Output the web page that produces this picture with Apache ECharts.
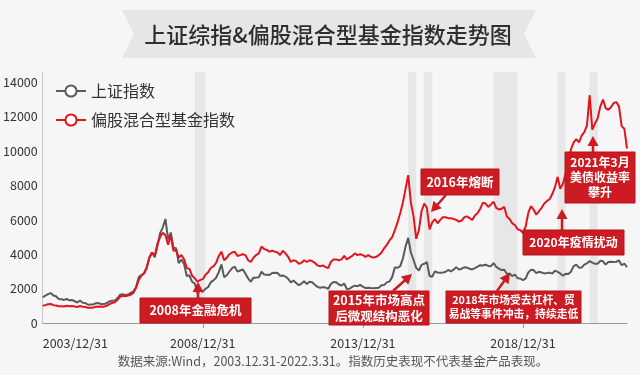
<!DOCTYPE html>
<html><head><meta charset="utf-8">
<script src="https://cdn.jsdelivr.net/npm/echarts@6/dist/echarts.min.js"></script>
<style>html,body{margin:0;padding:0;background:#f6f6f6}#c{width:640px;height:375px}</style>
</head><body><div id="c"></div>
<script>
// monthly month-end categories, 2003/12/31 .. 2022/3/31
const categories = [];
for (let k = 0; k < 220; k++) {
  const y = 2003 + Math.floor((11 + k) / 12), m = (11 + k) % 12 + 1;
  categories.push(y + '/' + m + '/' + new Date(y, m, 0).getDate());
}
const xTickLabels = ['2003/12/31', '2008/12/31', '2013/12/31', '2018/12/31'];
const yTickValues = [0, 2000, 4000, 6000, 8000, 10000, 12000, 14000];

const sseIndex = [1497,
1590,1675,1742,1595,1555,1400,1386,1342,1396,1320,1340,1266,
1191,1306,1181,1159,1060,1080,1083,1162,1155,1092,1099,1161,
1258,1299,1298,1440,1641,1672,1612,1658,1752,1837,2099,2675,
2786,2881,3183,3841,4109,3820,4471,5219,5552,6050,4871,5262,
4383,4348,3473,3693,3433,2736,2776,2397,2293,1729,1871,1821,
1991,2082,2373,2477,2633,2959,3412,2667,2779,2996,3195,3277,
2989,3051,3110,2870,2592,2398,2638,2639,2656,2979,2820,2808,
2791,2905,2928,2911,2743,2762,2701,2568,2359,2469,2333,2199,
2292,2428,2263,2397,2373,2225,2103,2047,2086,2069,1980,2269,
2385,2366,2237,2178,2301,1979,1994,2098,2175,2141,2221,2116,
2033,2056,2033,2026,2039,2048,2202,2217,2364,2420,2683,3235,
3210,3310,3748,4442,4950,4100,3664,3206,3053,3383,3445,3539,
2738,2688,3004,2938,2917,2930,2979,3085,3005,3100,3250,3104,
3159,3242,3223,3155,3117,3193,3273,3361,3349,3393,3317,3307,
3481,3259,3169,3082,3095,2847,2876,2725,2821,2603,2588,2494,
2585,2941,3091,3078,2899,2979,2933,2886,2905,2929,2872,3050,
2977,2880,2750,2860,2852,2985,3310,3396,3218,3225,3392,3473,
3600,3509,3442,3447,3615,3591,3397,3544,3568,3547,3564,3640,
3361,3462,3252];

const fundIndex = [1000,
1040,1090,1110,1040,1020,970,975,960,1000,975,985,960,
930,985,950,930,880,890,900,950,960,940,950,1000,
1100,1160,1200,1350,1530,1580,1560,1600,1640,1750,2050,2500,
2750,2900,3250,3800,4100,3900,4600,5000,5250,5100,4550,5100,
4200,4250,3800,3950,3700,3200,3150,2750,2600,2400,2500,2550,
2800,2950,3200,3300,3500,3900,4150,3650,3800,4000,4100,4150,
3900,3950,4000,3950,3650,3550,3800,3950,4050,4450,4300,4250,
4150,4200,4150,4100,3950,4200,4050,3850,3550,3650,3600,3450,
3500,3650,3550,3650,3600,3500,3350,3300,3350,3250,3200,3550,
3700,3700,3650,3700,3900,3700,3800,3900,4050,3950,4000,3950,
3850,3950,3850,3800,3850,3950,4100,4350,4550,4800,5000,5400,
5850,6400,7000,7800,8600,7000,6200,4900,5400,6500,6950,6700,
5450,5850,6050,5800,6000,6150,6150,6100,6100,6050,6000,5900,
5950,6150,6200,6100,6000,6250,6400,6650,7000,6950,6750,6900,
7050,6700,6600,6650,6750,6200,6050,5800,5700,5450,5400,5250,
5600,6400,6800,6600,6300,6500,6700,6950,7100,7200,7500,7900,
8500,7800,8100,8700,9300,10100,10500,10700,10500,10900,11100,11500,
13250,11250,11600,11900,12600,13000,12500,12400,12550,12800,12850,12600,
11450,11300,10150];

// shaded event periods [from, to]
const bands = [['2008/9/30','2009/1/31'],['2015/5/31','2015/8/31'],['2015/11/30','2016/2/29'],
  ['2018/1/31','2018/10/31'],['2020/1/31','2020/4/30'],['2021/1/31','2021/4/30']];

const RED = '#cc1b22';
const FONT = '"Noto Sans CJK SC", "Noto Sans", sans-serif';

function arrow(x1, y1, x2, y2) {
  const dx = x2 - x1, dy = y2 - y1, L = Math.hypot(dx, dy), ux = dx / L, uy = dy / L;
  const hl = 10, hw = 5.5;
  const bx = x2 - ux * hl, by = y2 - uy * hl;
  return [
    {type: 'line', shape: {x1: x1, y1: y1, x2: bx + ux, y2: by + uy}, style: {stroke: RED, lineWidth: 2.5}, z: 100},
    {type: 'polygon', shape: {points: [[x2, y2], [bx - uy * hw, by + ux * hw], [bx + uy * hw, by - ux * hw]]}, style: {fill: RED}, z: 100}
  ];
}
function box(x, y, w, h, lines, fs) {
  const els = [{type: 'rect', shape: {x: x, y: y, width: w, height: h}, style: {fill: RED, stroke: '#b3141a', lineWidth: 1}, z: 100}];
  const lh = fs + 3, top = y + h / 2 - (lines.length - 1) * lh / 2;
  lines.forEach((t, i) => els.push({type: 'text', x: x + w / 2, y: top + i * lh, z: 101,
    style: {text: t, fill: '#fff', font: 'bold ' + fs + 'px ' + FONT, align: 'center', verticalAlign: 'middle'}}));
  return els;
}

const graphics = [].concat(
  [{type: 'polygon', shape: {points: [[122,10],[536,10],[524,34],[536,58],[122,58],[134,34]]}, style: {fill: '#e6e6e6'}, z: -1},
   {type: 'text', x: 328, y: 35, style: {text: '上证综指&偏股混合型基金指数走势图', fill: '#2e2e2e', font: '500 22px ' + FONT, align: 'center', verticalAlign: 'middle'}},
   {type: 'text', x: 333, y: 361, style: {text: '数据来源:Wind，2003.12.31-2022.3.31。指数历史表现不代表基金产品表现。', fill: '#555', font: '12.5px ' + FONT, align: 'center', verticalAlign: 'middle'}}],
  box(140, 298, 111, 25, ['2008年金融危机'], 12.5), arrow(198, 298, 198, 282),
  box(329, 291, 100, 34, ['2015年市场高点', '后微观结构恶化'], 12.5), arrow(393, 291, 412, 274),
  box(421, 169, 78, 26, ['2016年熔断'], 12.5), arrow(446, 195, 431, 212),
  box(446, 291, 135, 32, ['2018年市场受去杠杆、贸', '易战等事件冲击，持续走低'], 10.8), arrow(497, 291, 510, 273),
  box(523, 230, 101, 25, ['2020年疫情扰动'], 12), arrow(562, 230, 562, 209),
  box(565, 152, 70, 51, ['2021年3月', '美债收益率', '攀升'], 12), arrow(593, 152, 593, 136)
);

const chart = echarts.init(document.getElementById('c'), null, {renderer: 'canvas'});
chart.setOption({
  backgroundColor: '#f6f6f6',
  animation: false,
  textStyle: {fontFamily: FONT},
  grid: {left: 37, right: 13, top: 72, bottom: 52},
  legend: {
    orient: 'vertical', left: 50, top: 78, itemGap: 13, itemWidth: 30, itemHeight: 14,
    textStyle: {fontSize: 16, color: '#333', fontFamily: FONT},
    data: ['上证指数', '偏股混合型基金指数']
  },
  xAxis: {
    type: 'category', data: categories, boundaryGap: false,
    axisLine: {lineStyle: {color: '#9a9a9a', width: 1}},
    axisTick: {show: true, length: 5, lineStyle: {color: '#9a9a9a'},
      interval: (i, v) => i > 0 && xTickLabels.indexOf(v) >= 0},
    axisLabel: {interval: (i, v) => xTickLabels.indexOf(v) >= 0, color: '#333', fontSize: 12.5, margin: 14,
      alignMinLabel: 'left', formatter: v => xTickLabels.indexOf(v) >= 0 ? v : ''},
    splitLine: {show: false}
  },
  yAxis: {
    type: 'value', min: 0, max: 14600, interval: 2000,
    axisLine: {show: true, lineStyle: {color: '#c8c8c8'}},
    axisTick: {show: false}, splitLine: {show: false},
    axisLabel: {color: '#333', fontSize: 12.5, margin: 5, showMaxLabel: false,
      formatter: v => yTickValues.indexOf(v) >= 0 ? String(v) : ''}
  },
  series: [
    {name: '上证指数', type: 'line', data: sseIndex, showSymbol: false, symbol: 'emptyCircle', symbolSize: 9,
     itemStyle: {color: '#5a5a5a', borderWidth: 2}, lineStyle: {color: '#5a5a5a', width: 2}, z: 3,
     markArea: {silent: true, itemStyle: {color: '#e7e7e7'}, data: bands.map(b => [{xAxis: b[0]}, {xAxis: b[1]}])}},
    {name: '偏股混合型基金指数', type: 'line', data: fundIndex, showSymbol: false, symbol: 'emptyCircle', symbolSize: 9,
     itemStyle: {color: '#e4141c', borderWidth: 2}, lineStyle: {color: '#e4141c', width: 2}, z: 4}
  ],
  graphic: graphics
});
</script></body></html>
